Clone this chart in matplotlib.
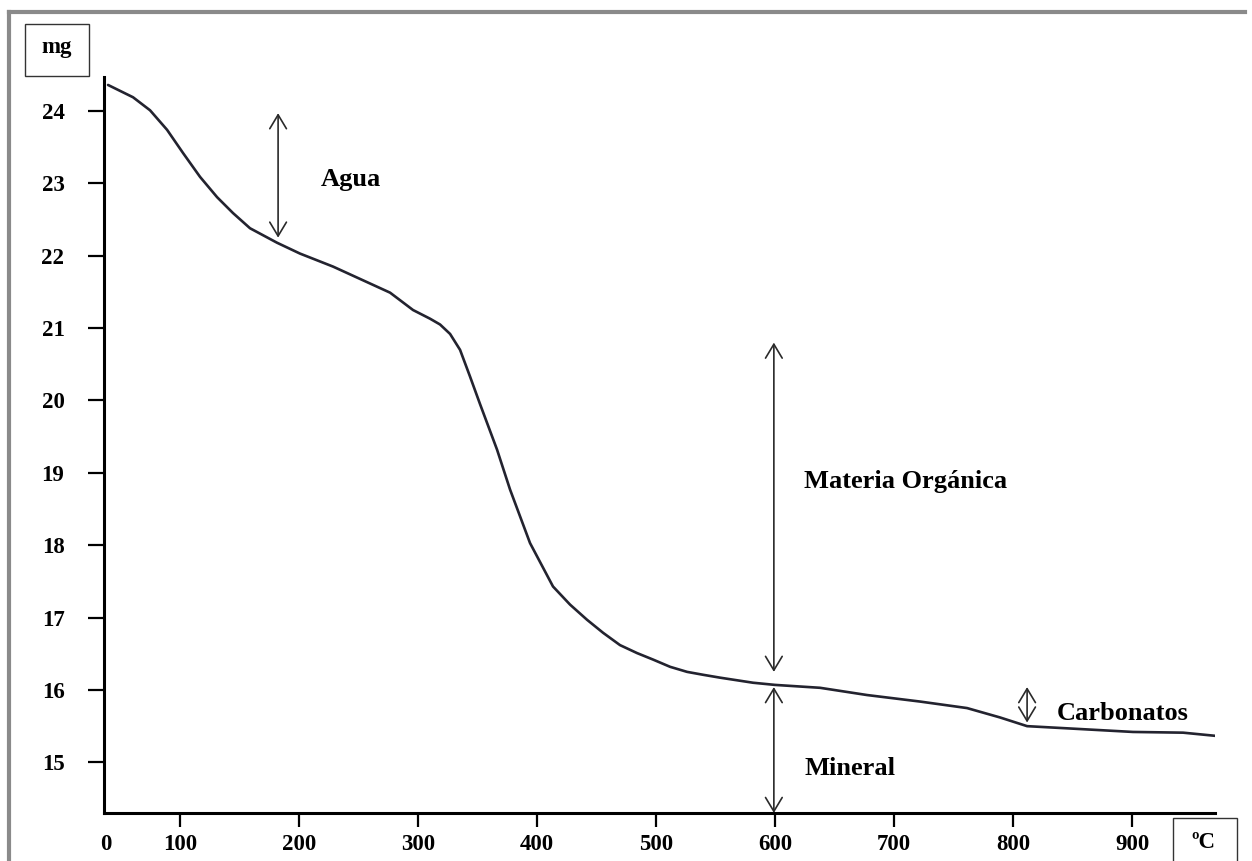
import matplotlib
matplotlib.use("Agg")
import matplotlib.pyplot as plt
from matplotlib.patches import Rectangle
from matplotlib.lines import Line2D

# ---- data ----
temp_c = [39.5, 60.5, 74.8, 89.1, 102.5, 116.8, 131.1, 144.5, 158.8, 181.5,
          200.8, 228.6, 276.5, 295.8, 310.1, 318.5, 326.9, 335.3, 343.7, 352.1,
          366.4, 377.3, 394.1, 413.4, 427.7, 442.0, 455.5, 469.7, 484.0, 497.5,
          511.8, 526.1, 539.5, 553.8, 581.5, 600.0, 637.8, 677.3, 721.8, 761.3,
          789.1, 811.8, 845.4, 900.8, 942.9, 973.9]
mass_mg = [24.36, 24.19, 24.01, 23.74, 23.42, 23.09, 22.81, 22.59, 22.38, 22.18,
           22.03, 21.85, 21.49, 21.25, 21.13, 21.05, 20.92, 20.70, 20.33, 19.95,
           19.32, 18.77, 18.03, 17.43, 17.18, 16.97, 16.79, 16.62, 16.51, 16.42,
           16.32, 16.25, 16.21, 16.17, 16.10, 16.07, 16.03, 15.93, 15.84, 15.75,
           15.62, 15.50, 15.47, 15.42, 15.41, 15.36]

y_ticks = [15, 16, 17, 18, 19, 20, 21, 22, 23, 24]
x_tick_pos = [38, 100, 200, 300, 400, 500, 600, 700, 800, 900]
x_tick_labels = ["0", "100", "200", "300", "400", "500", "600", "700", "800", "900"]

# arrows: (x, y_start, y_end)
arrow_agua = (182.4, 22.25, 23.97)
arrow_materia = (599.0, 16.25, 20.80)
arrow_mineral = (599.0, 16.04, 14.30)
arrow_carb = (811.8, 15.55, 16.04)

labels = [("Agua", 218.5, 23.05),
          ("Materia Orgánica", 624.4, 18.88),
          ("Mineral", 624.4, 14.91),
          ("Carbonatos", 837.0, 15.68)]

# ---- figure ----
plt.rcParams['font.family'] = ['Liberation Serif', 'DejaVu Serif']
plt.rcParams['font.weight'] = 'bold'

W, H = 1252, 861
fig = plt.figure(figsize=(W / 100, H / 100), dpi=100)
fig.patch.set_facecolor('white')

ax = fig.add_axes([104 / W, (H - 813) / H, (1215 - 104) / W, (813 - 77) / H])
ax.set_xlim(36.1, 969.7)
ax.set_ylim(14.30, 24.47)

ax.plot(temp_c, mass_mg, color='#23232f', lw=1.9, solid_capstyle='round',
        solid_joinstyle='round')

for s in ['top', 'right']:
    ax.spines[s].set_visible(False)
for s in ['left', 'bottom']:
    ax.spines[s].set_linewidth(2.2)
    ax.spines[s].set_color('black')

ax.set_yticks(y_ticks)
ax.set_yticklabels([str(v) for v in y_ticks])
ax.set_xticks(x_tick_pos)
ax.set_xticklabels(x_tick_labels)
ax.tick_params(axis='y', direction='out', length=11.5, width=1.6, pad=17, labelsize=16.5)
ax.tick_params(axis='x', direction='out', length=10, width=1.6, pad=5, labelsize=16.5)
ax.xaxis.get_major_ticks()[0].tick1line.set_visible(False)
for lab in ax.get_xticklabels() + ax.get_yticklabels():
    lab.set_fontweight('bold')

astyle = '<->,head_length=0.5,head_width=0.3'
for (x, y0, y1) in [arrow_agua, arrow_materia, arrow_mineral, arrow_carb]:
    ax.annotate('', xy=(x, y1), xytext=(x, y0),
                arrowprops=dict(arrowstyle=astyle, lw=1.2, color='#2a2a2a',
                                mutation_scale=20, shrinkA=0, shrinkB=0),
                annotation_clip=False)

for (txt, x, y) in labels:
    ax.text(x, y, txt, fontsize=19, fontweight='bold', ha='left', va='center')

# unit boxes
fig.add_artist(Rectangle((25 / W, (H - 76) / H), 64 / W, 52 / H, transform=fig.transFigure,
                         fill=False, edgecolor='#333333', lw=1.0))
fig.text(57 / W, (H - 47) / H, 'mg', ha='center', va='center', fontsize=16.5, fontweight='bold')
fig.add_artist(Rectangle((1173 / W, -0.02), 64 / W, (H - 818) / H + 0.02, transform=fig.transFigure,
                         fill=False, edgecolor='#333333', lw=1.0))
fig.text(1203 / W, (H - 842) / H, 'ºC', ha='center', va='center', fontsize=16.5, fontweight='bold')

# outer gray frame (top and left)
fig.add_artist(Line2D([9 / W, 1245 / W], [(H - 12) / H, (H - 12) / H], transform=fig.transFigure,
                      color='#8a8a8a', lw=3))
fig.add_artist(Line2D([9 / W, 9 / W], [(H - 12) / H, 0], transform=fig.transFigure,
                      color='#8a8a8a', lw=3))

fig.savefig('out.png', dpi=100, facecolor='white')
